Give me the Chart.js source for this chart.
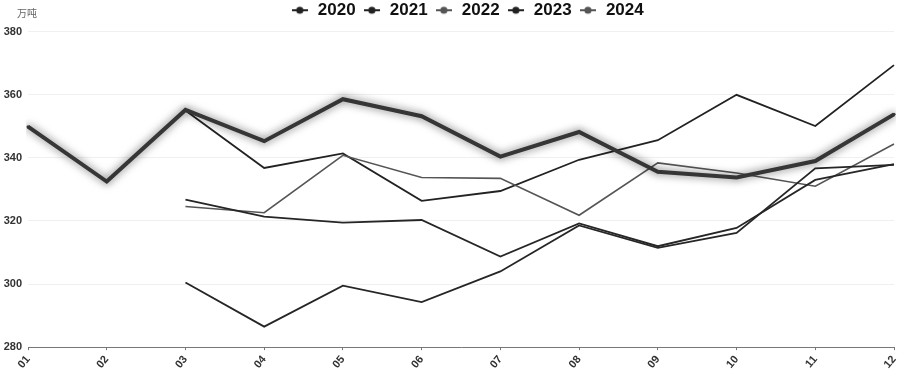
<!DOCTYPE html>
<html>
<head>
<meta charset="utf-8">
<script src="https://cdn.jsdelivr.net/npm/chart.js@4/dist/chart.umd.min.js"></script>
<style>
html,body{margin:0;padding:0;background:#fff;}
#wrap{width:900px;height:374px;position:relative;}
</style>
</head>
<body>
<div id="wrap"><canvas id="c" width="900" height="374"></canvas></div>
<script>
const months = ['01','02','03','04','05','06','07','08','09','10','11','12'];
const yearLabels = ['2020','2021','2022','2023','2024'];
const d2020 = [null,null,300.5,286.5,299.5,294.3,304.0,318.6,311.5,316.2,336.7,337.8];
const d2021 = [null,null,326.8,321.4,319.5,320.3,308.7,319.2,312.0,317.8,333.0,338.0];
const d2022 = [null,null,324.6,322.6,340.8,333.8,333.5,321.8,338.4,335.2,331.0,344.4];
const d2023 = [null,null,355.0,336.8,341.4,326.4,329.5,339.4,345.6,360.0,350.1,369.4];
const d2024 = [349.9,332.5,355.2,345.3,358.6,353.2,340.4,348.2,335.6,333.8,339.0,353.8];
const yTicks = [280,300,320,340,360,380];
const unitLabel = '万吨';

const colors = ['#262626','#262626','#555555','#222222','#363636'];
const legendColors = ['#222222','#222222','#555555','#222222','#555555'];
const widths = [1.8,1.8,1.6,1.8,4];
const seriesData = [d2020,d2021,d2022,d2023,d2024];

function marker(color){
  const cv = document.createElement('canvas');
  cv.width = 16; cv.height = 10;
  const g = cv.getContext('2d');
  g.strokeStyle = color; g.lineWidth = 2;
  g.beginPath(); g.moveTo(0,5); g.lineTo(16,5); g.stroke();
  g.fillStyle = color;
  g.beginPath(); g.arc(8,5,3.6,0,Math.PI*2); g.fill();
  return cv;
}
const markers = legendColors.map(marker);

const datasets = yearLabels.map((y,i)=>({
  label: y,
  data: seriesData[i],
  borderColor: colors[i],
  backgroundColor: colors[i],
  borderWidth: widths[i],
  pointRadius: i===4 ? 1.5 : 0,
  pointBorderWidth: 0,
  pointHoverRadius: 0,
  pointStyle: 'circle',
  tension: 0,
  spanGaps: false,
  order: i===4 ? 0 : 1
}));

const shadowPlugin = {
  id:'shadow',
  beforeDatasetDraw(chart,args){
    if(args.index===4){
      const ctx=chart.ctx; ctx.save();
      ctx.shadowColor='rgba(0,0,0,0.6)'; ctx.shadowBlur=8; ctx.shadowOffsetX=0; ctx.shadowOffsetY=0;
    }
  },
  afterDatasetDraw(chart,args){
    if(args.index===4){ chart.ctx.restore(); }
  }
};

const unitPlugin = {
  id:'unit',
  beforeLayout(chart){
    const lg = chart.legend;
    if(lg && !lg._patched){
      const f = lg.fit;
      lg.fit = function(){ f.call(this); this.height += 3; };
      lg._patched = true;
    }
  },
  afterLayout(chart){
    if(chart.legend){ chart.legend.left += 17; chart.legend.right += 17; }
  },
  afterDraw(chart){
    const ctx=chart.ctx; ctx.save();
    ctx.font='10px "Noto Sans CJK SC"';
    ctx.fillStyle='#666'; ctx.textAlign='center'; ctx.textBaseline='middle';
    ctx.fillText(unitLabel, 27, 13);
    ctx.restore();
  }
};

new Chart(document.getElementById('c'),{
  type:'line',
  data:{labels:months, datasets},
  plugins:[shadowPlugin, unitPlugin],
  options:{
    responsive:false,
    animation:false,
    layout:{padding:{top:-5,left:0,right:0,bottom:0}},
    plugins:{
      legend:{
        display:true,
        position:'top',
        labels:{
          usePointStyle:true,
          pointStyleWidth:19,
          padding:6.7,
          color:'#111',
          font:{family:'"Liberation Sans", Arial, sans-serif', size:17, weight:'bold'},
          generateLabels(chart){
            return chart.data.datasets.map((ds,i)=>({
              text: ds.label,
              datasetIndex:i,
              fillStyle: legendColors[i],
              strokeStyle: legendColors[i],
              fontColor:'#111',
              lineWidth:0,
              pointStyle: markers[i],
              hidden:false
            }));
          }
        }
      },
      tooltip:{enabled:false}
    },
    scales:{
      x:{
        offset:false,
        afterFit(scale){ scale.paddingRight = 6; scale.paddingLeft = 0; },
        grid:{display:true, drawOnChartArea:false, drawTicks:true, tickLength:3, color:'#777'},
        border:{display:true, color:'#777', width:1},
        ticks:{
          autoSkip:false, maxRotation:50, minRotation:50, padding:3,
          color:'#333',
          font:{family:'"Liberation Sans", Arial, sans-serif', size:11, weight:'bold'}
        }
      },
      y:{
        min:280, max:380,
        afterFit(scale){ scale.width = 28; },
        afterBuildTicks(scale){ scale.ticks = yTicks.map(v=>({value:v})); },
        grid:{color:'#f0f0f0', drawTicks:false, lineWidth:1},
        border:{display:false},
        ticks:{
          padding:6,
          color:'#333',
          font:{family:'"Liberation Sans", Arial, sans-serif', size:11, weight:'bold'}
        }
      }
    }
  }
});
</script>
</body>
</html>
